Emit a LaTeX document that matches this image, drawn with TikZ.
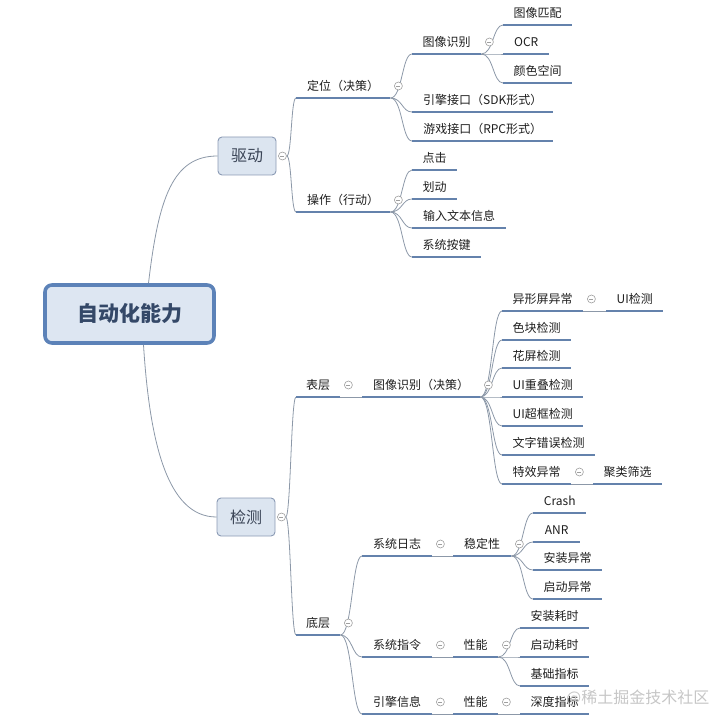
\documentclass[tikz,border=0pt]{standalone}
\usepackage{fontspec}
\setmainfont{Noto Sans CJK SC}
\definecolor{txt}{RGB}{30,30,30}
\definecolor{ulc}{RGB}{100,130,172}
\definecolor{connc}{RGB}{140,152,168}
\definecolor{rootfill}{RGB}{221,230,242}
\definecolor{rootdraw}{RGB}{92,130,184}
\definecolor{roottxt}{RGB}{52,72,104}
\definecolor{subfill}{RGB}{220,229,240}
\definecolor{subdraw}{RGB}{138,154,180}
\definecolor{subtxt}{RGB}{58,68,86}
\newcommand\mmbranch[2]{\draw[conn] (#1.south east) .. controls +(12,0) and +(-10,0) .. (#2.south west);}
\newcommand\mmstraight[2]{\draw[conn] (#1.south east) -- (#2.south west);}
\begin{document}
\begin{tikzpicture}[x=1pt,y=-1pt,
  topic/.style={anchor=south west, inner xsep=10pt, inner ysep=0pt, minimum height=24pt,
    text height=10pt, text depth=1pt, font=\fontsize{12}{14}\selectfont, text=txt},
  uline/.style={draw=ulc, line width=2.6pt},
  conn/.style={draw=connc, line width=0.8pt},
  collapse/.style={circle, draw=gray!75, fill=white, line width=0.6pt, minimum size=8pt, inner sep=0pt,
    path picture={\draw[gray!75, line width=0.5pt] ([xshift=-2pt]path picture bounding box.center) -- ([xshift=2pt]path picture bounding box.center);}},
  rootbox/.style={draw=rootdraw, fill=rootfill, line width=3.6pt, rounded corners=7pt,
    minimum width=169pt, minimum height=58pt, font=\fontsize{21}{24}\selectfont\bfseries, text=roottxt},
  subbox/.style={draw=subdraw, fill=subfill, line width=0.9pt, rounded corners=4pt,
    minimum width=58pt, minimum height=38pt, font=\fontsize{16}{18}\selectfont, text=subtxt},
]
\useasboundingbox (0,0) rectangle (722,727);

% main nodes
\node[rootbox] (root) at (129.5,314) {自动化能力};
\node[subbox] (qd) at (247,156) {驱动};
\node[subbox] (jc) at (246,517) {检测};
\node[collapse] (qd-c) at ([xshift=6pt]qd.east) {};
\node[collapse] (jc-c) at ([xshift=6pt]jc.east) {};

% 驱动 branch
\node[topic, minimum width=94pt] (dw) at (296,98) {定位（决策）};
\node[topic, minimum width=94pt] (cz) at (296,212) {操作（行动）};
\node[topic, minimum width=69pt] (txsb) at (412,54) {图像识别};
\node[topic, minimum width=141pt] (yq) at (412,112) {引擎接口（SDK形式）};
\node[topic, minimum width=141pt] (yx) at (412,141) {游戏接口（RPC形式）};
\node[topic, minimum width=69pt] (pp) at (503,25) {图像匹配};
\node[topic, minimum width=46pt] (ocr) at (503,54) {OCR};
\node[topic, minimum width=69pt] (ys) at (503,83) {颜色空间};
\node[topic, minimum width=45pt] (dj) at (412,170) {点击};
\node[topic, minimum width=45pt] (hd) at (412,199) {划动};
\node[topic, minimum width=94pt] (sr) at (412,228) {输入文本信息};
\node[topic, minimum width=69pt] (aj) at (412,257) {系统按键};

% 检测 branch
\node[topic, minimum width=44pt] (bc) at (296,397) {表层};
\node[topic, minimum width=44pt] (dc) at (296,635) {底层};
\node[topic, minimum width=118pt] (txjc) at (362,397) {图像识别（决策）};
\node[topic, minimum width=81pt] (yxp) at (502,311) {异形屏异常};
\node[topic, minimum width=69pt] (sk) at (502,340) {色块检测};
\node[topic, minimum width=69pt] (hp) at (502,368) {花屏检测};
\node[topic, minimum width=81pt] (cd) at (502,397) {UI重叠检测};
\node[topic, minimum width=81pt] (ck) at (502,426) {UI超框检测};
\node[topic, minimum width=93pt] (wz) at (502,455) {文字错误检测};
\node[topic, minimum width=69pt] (tx) at (502,484) {特效异常};
\node[topic, minimum width=57pt] (ui) at (606,311) {UI检测};
\node[topic, minimum width=69pt] (jl) at (593,484) {聚类筛选};
\node[topic, minimum width=70pt] (rz) at (362,556) {系统日志};
\node[topic, minimum width=70pt] (zl) at (362,657) {系统指令};
\node[topic, minimum width=70pt] (yqxx) at (362,714) {引擎信息};
\node[topic, minimum width=58pt] (wd) at (453,556) {稳定性};
\node[topic, minimum width=45pt] (xn1) at (453,657) {性能};
\node[topic, minimum width=45pt] (xn2) at (453,714) {性能};
\node[topic, minimum width=53pt] (crash) at (533,513) {Crash};
\node[topic, minimum width=47pt] (anr) at (533,542) {ANR};
\node[topic, minimum width=69pt] (azyc) at (533,570) {安装异常};
\node[topic, minimum width=69pt] (qdyc) at (533,599) {启动异常};
\node[topic, minimum width=69pt] (azhs) at (520,628) {安装耗时};
\node[topic, minimum width=69pt] (qdhs) at (520,657) {启动耗时};
\node[topic, minimum width=69pt] (jczb) at (520,686) {基础指标};
\node[topic, minimum width=69pt] (sdzb) at (520,714) {深度指标};

% connectors from root
\draw[conn] ([xshift=19pt]root.north) .. controls +(10,-85) and +(-45,0) .. (qd.west);
\draw[conn] ([xshift=14pt]root.south) .. controls +(6,95) and +(-50,0) .. (jc.west);

% connectors from level 1
\foreach \c in {dw,cz} \draw[conn] (qd-c.east) .. controls +(5,0) and +(-5,0) .. (\c.south west);
\foreach \c in {bc,dc} \draw[conn] (jc-c.east) .. controls +(5,0) and +(-5,0) .. (\c.south west);

% branches
\foreach \c in {txsb,yq,yx} {\mmbranch{dw}{\c}}
\foreach \c in {pp,ocr,ys} {\mmbranch{txsb}{\c}}
\foreach \c in {dj,hd,sr,aj} {\mmbranch{cz}{\c}}
\mmstraight{bc}{txjc}
\foreach \c in {yxp,sk,hp,cd,ck,wz,tx} {\mmbranch{txjc}{\c}}
\mmstraight{yxp}{ui}
\mmstraight{tx}{jl}
\foreach \c in {rz,zl,yqxx} {\mmbranch{dc}{\c}}
\mmstraight{rz}{wd}
\mmstraight{zl}{xn1}
\mmstraight{yqxx}{xn2}
\foreach \c in {crash,anr,azyc,qdyc} {\mmbranch{wd}{\c}}
\foreach \c in {azhs,qdhs,jczb} {\mmbranch{xn1}{\c}}
\mmstraight{xn2}{sdzb}

% underlines
\foreach \n in {dw,cz,txsb,yq,yx,pp,ocr,ys,dj,hd,sr,aj,bc,dc,txjc,yxp,sk,hp,cd,ck,wz,tx,ui,jl,
  rz,zl,yqxx,wd,xn1,xn2,crash,anr,azyc,qdyc,azhs,qdhs,jczb,sdzb}
  \draw[uline] (\n.south west) -- (\n.south east);

% collapse markers
\foreach \n in {dw,cz,txsb,bc,txjc,yxp,tx,dc,rz,zl,yqxx,wd,xn1,xn2}
  \node[collapse] (\n-c) at ([xshift=8pt,yshift=12pt]\n.south east) {};

% watermark
\node[anchor=west, inner sep=0pt, font=\fontsize{16}{18}\selectfont, text=gray!45] (wm) at (566,698) {@稀土掘金技术社区};
\end{tikzpicture}
\end{document}
